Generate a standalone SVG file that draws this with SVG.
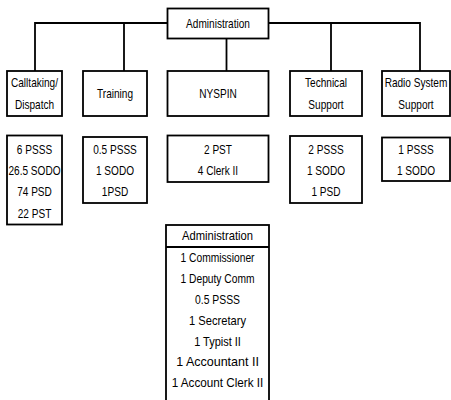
<svg xmlns="http://www.w3.org/2000/svg" width="451" height="400" viewBox="0 0 451 400">
<style>
rect{fill:#fff;stroke:#000;stroke-width:1.8}
.c line{stroke:#000;stroke-width:1.8}
text{font-family:"Liberation Sans",Arial,sans-serif;font-size:12.3px;fill:#000;text-anchor:middle}
.b text{font-size:12.8px}
</style>
<rect x="0" y="0" width="451" height="400" style="stroke:none"/>
<g id="connectors" class="c">
<line x1="35" y1="23" x2="167.5" y2="23"/>
<line x1="268.5" y1="23" x2="420" y2="23"/>
<line x1="35" y1="22.1" x2="35" y2="71"/>
<line x1="124" y1="23" x2="124" y2="71"/>
<line x1="226.5" y1="38.5" x2="226.5" y2="71"/>
<line x1="331" y1="23" x2="331" y2="71"/>
<line x1="420" y1="22.1" x2="420" y2="71"/>
</g>
<g id="admin-top"><rect x="167.5" y="8.5" width="101" height="30"/><g transform="translate(218,0) scale(0.82,1)"><text x="0" y="28.5">Administration</text></g></g>
<g id="calltaking"><rect x="7" y="71" width="55" height="45"/><g transform="translate(34.5,0) scale(0.82,1)"><text x="0" y="87.5">Calltaking/</text><text x="0" y="109">Dispatch</text></g></g>
<g id="training"><rect x="83" y="71" width="64" height="45"/><g transform="translate(115,0) scale(0.82,1)"><text x="0" y="98.5">Training</text></g></g>
<g id="nyspin"><rect x="167.5" y="71" width="101" height="45"/><g transform="translate(218,0) scale(0.82,1)"><text x="0" y="98.5">NYSPIN</text></g></g>
<g id="technical"><rect x="290" y="71" width="72" height="45"/><g transform="translate(326,0) scale(0.82,1)"><text x="0" y="87.5">Technical</text><text x="0" y="109">Support</text></g></g>
<g id="radio"><rect x="382" y="71" width="68" height="45"/><g transform="translate(416,0) scale(0.82,1)"><text x="0" y="87.5">Radio System</text><text x="0" y="109">Support</text></g></g>
<g id="calltaking-staff"><rect x="7" y="135.5" width="55" height="89"/><g transform="translate(34.5,0) scale(0.82,1)"><text x="0" y="154.5">6 PSSS</text><text x="0" y="175.5">26.5 SODO</text><text x="0" y="196.5">74 PSD</text><text x="0" y="218">22 PST</text></g></g>
<g id="training-staff"><rect x="83" y="137" width="64" height="66"/><g transform="translate(115,0) scale(0.82,1)"><text x="0" y="154.5">0.5 PSSS</text><text x="0" y="175.5">1 SODO</text><text x="0" y="196.5">1PSD</text></g></g>
<g id="nyspin-staff"><rect x="167.5" y="135.5" width="101" height="46.5"/><g transform="translate(218,0) scale(0.82,1)"><text x="0" y="154.5">2 PST</text><text x="0" y="175.5">4 Clerk II</text></g></g>
<g id="technical-staff"><rect x="290" y="136" width="72" height="67"/><g transform="translate(326,0) scale(0.82,1)"><text x="0" y="154.5">2 PSSS</text><text x="0" y="175.5">1 SODO</text><text x="0" y="196.5">1 PSD</text></g></g>
<g id="radio-staff"><rect x="382" y="137.5" width="68" height="43.5"/><g transform="translate(416,0) scale(0.82,1)"><text x="0" y="154.5">1 PSSS</text><text x="0" y="175.5">1 SODO</text></g></g>
<g id="admin-staff" class="b"><rect x="166" y="225" width="103" height="190"/><line x1="166" y1="247" x2="269" y2="247" style="stroke:#000;stroke-width:1.8"/>
<g transform="translate(217.5,0) scale(0.82,1)">
<text x="0" y="240.5" textLength="86.6" lengthAdjust="spacingAndGlyphs">Administration</text>
<text x="0" y="262.5" textLength="90.2" lengthAdjust="spacingAndGlyphs">1 Commissioner</text>
<text x="0" y="283.5" textLength="90.2" lengthAdjust="spacingAndGlyphs">1 Deputy Comm</text>
<text x="0" y="304.5" textLength="54.9" lengthAdjust="spacingAndGlyphs">0.5 PSSS</text>
<text x="0" y="325.5" textLength="69.5" lengthAdjust="spacingAndGlyphs">1 Secretary</text>
<text x="0" y="346" textLength="57" lengthAdjust="spacingAndGlyphs">1 Typist II</text>
<text x="0" y="366.5" textLength="100.9" lengthAdjust="spacingAndGlyphs">1 Accountant II</text>
<text x="0" y="387" textLength="111.7" lengthAdjust="spacingAndGlyphs">1 Account Clerk II</text>
</g>
</g>
</svg>
